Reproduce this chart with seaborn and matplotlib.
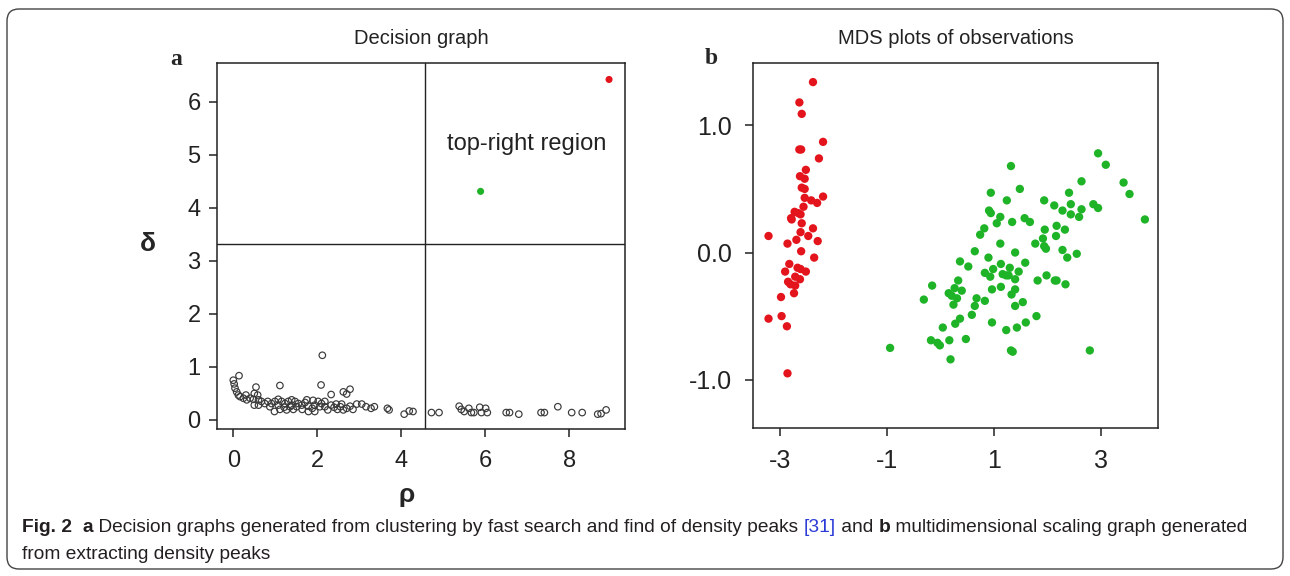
import numpy as np
import pandas as pd
import matplotlib
matplotlib.use("Agg")
import matplotlib.pyplot as plt
import matplotlib.transforms as mtransforms
from matplotlib.patches import FancyBboxPatch
import seaborn as sns

# ---------------------------------------------------------------------------
# data read off the reference
# panel a: decision graph (rho, delta) of all observations
rho = [0.00, 0.02, 0.04, 0.08, 0.12, 0.136, 0.16, 0.24, 0.32, 0.40, 0.30,
       0.54, 0.50, 0.58, 0.48, 0.60, 0.50, 0.60, 0.67, 0.75, 0.87,
       0.82, 0.91, 0.99, 1.07, 1.15, 1.23, 1.31, 1.39, 1.47, 1.55,
       0.98, 1.11, 1.21, 1.35, 1.51, 1.63, 1.71, 1.79, 1.88, 1.94,
       2.02, 2.10, 2.18, 2.25, 2.33, 1.94, 1.79, 1.64, 1.43, 1.27,
       1.07, 1.39, 1.75, 1.90, 2.06, 2.18, 1.11, 2.09, 2.12, 2.33,
       2.62, 2.78, 2.70, 2.40, 2.48, 2.55, 2.62, 2.70, 2.78, 2.85,
       2.45, 2.58, 2.94, 3.06, 3.16, 3.28, 3.36, 3.67, 3.71, 4.07,
       4.19, 4.28, 4.72, 4.90, 5.38, 5.43, 5.50, 5.61, 5.67, 5.73,
       5.87, 5.91, 6.01, 6.05, 6.50, 6.58, 6.80, 7.33, 7.41, 7.73,
       8.06, 8.31, 8.68, 8.76, 8.88]
delta = [0.75, 0.68, 0.60, 0.53, 0.47, 0.835, 0.44, 0.41, 0.38, 0.41, 0.47,
         0.62, 0.50, 0.47, 0.39, 0.38, 0.28, 0.28, 0.35, 0.31, 0.25,
         0.35, 0.31, 0.35, 0.28, 0.35, 0.31, 0.35, 0.28, 0.35, 0.31,
         0.16, 0.20, 0.24, 0.25, 0.25, 0.28, 0.33, 0.26, 0.22, 0.28,
         0.35, 0.31, 0.25, 0.19, 0.28, 0.16, 0.16, 0.20, 0.20, 0.19,
         0.39, 0.38, 0.38, 0.37, 0.25, 0.35, 0.65, 0.66, 1.22, 0.48,
         0.53, 0.58, 0.49, 0.24, 0.20, 0.25, 0.19, 0.22, 0.26, 0.20,
         0.30, 0.30, 0.30, 0.30, 0.25, 0.22, 0.25, 0.22, 0.19, 0.11,
         0.17, 0.16, 0.14, 0.14, 0.26, 0.20, 0.16, 0.22, 0.14, 0.14,
         0.24, 0.14, 0.22, 0.14, 0.14, 0.14, 0.11, 0.14, 0.14, 0.25,
         0.14, 0.14, 0.11, 0.12, 0.19]
# the two density peaks (cluster centres)
peak_rho = [8.95, 5.89]
peak_delta = [6.42, 4.31]
peak_cluster = ["red", "green"]
rho_cut = 4.56
delta_cut = 3.32

# panel b: MDS coordinates, cluster 1 (red)
red_x = [-2.385, -2.639, -2.595, -2.197, -2.640, -2.606, -2.274, -2.518,
         -2.628, -2.540, -2.595, -2.540, -2.197, -2.540, -2.418, -2.308,
         -2.562, -2.728, -2.662, -2.617, -2.794, -2.783, -2.595, -2.385,
         -2.617, -3.215, -2.473, -2.695, -2.297, -2.861, -2.606, -2.363,
         -2.827, -2.905, -2.673, -2.617, -2.518, -2.717, -2.628, -2.850,
         -2.805, -2.717, -2.739, -2.982, -3.215, -2.971, -2.872, -2.861]
red_y = [1.34, 1.18, 1.09, 0.87, 0.81, 0.81, 0.74, 0.65,
         0.60, 0.58, 0.51, 0.50, 0.44, 0.43, 0.41, 0.39,
         0.36, 0.32, 0.31, 0.30, 0.27, 0.26, 0.23, 0.19,
         0.16, 0.13, 0.13, 0.10, 0.09, 0.07, 0.01, -0.04,
         -0.09, -0.15, -0.12, -0.13, -0.15, -0.19, -0.21, -0.23,
         -0.25, -0.26, -0.32, -0.35, -0.52, -0.50, -0.58, -0.95]
# cluster 2 (green)
green_x = [2.936, 3.080, 1.310, 2.627, 3.412, 3.523, 0.934, 1.476, 2.394,
           1.233, 1.930, 2.118, 2.427, 2.627, 2.848, 2.936, 2.272, 2.427,
           2.582, 3.810, 0.901, 0.934, 1.111, 1.045, 1.332, 1.565, 1.664,
           0.812, 0.735, 1.941, 2.162, 2.317, 1.907, 2.151, 1.111, 1.764,
           1.930, 1.963, 2.272, 2.538, 2.361, 1.388, 0.635, 0.890, 0.359,
           0.514, 1.576, 1.122, 1.288, 0.978, 0.823, 0.923, 1.155, 1.222,
           1.266, 1.388, 1.454, 1.974, 2.129, 2.162, 2.328, 1.808, 0.956,
           1.122, 1.388, 1.321, 0.325, -0.161, 0.259, 0.392, 0.148, 0.204,
           0.303, -0.316, 0.668, 0.823, 0.635, 0.237, 1.388, 1.531, 0.580,
           0.359, 0.270, 0.038, 0.956, 1.587, 1.786, 1.421, 1.222, -0.183,
           -0.062, -0.017, 0.160, 0.469, 0.182, 1.310, 1.343, 2.782, -0.946]
green_y = [0.78, 0.69, 0.68, 0.56, 0.55, 0.46, 0.47, 0.50, 0.47,
           0.41, 0.41, 0.37, 0.38, 0.34, 0.38, 0.35, 0.33, 0.30,
           0.28, 0.26, 0.33, 0.31, 0.28, 0.23, 0.24, 0.27, 0.24,
           0.19, 0.14, 0.18, 0.21, 0.18, 0.11, 0.13, 0.07, 0.07,
           0.05, 0.03, 0.02, -0.01, -0.04, 0.00, 0.01, -0.04, -0.07,
           -0.11, -0.08, -0.09, -0.12, -0.13, -0.16, -0.19, -0.17, -0.18,
           -0.18, -0.21, -0.15, -0.18, -0.22, -0.22, -0.25, -0.22, -0.29,
           -0.27, -0.29, -0.33, -0.22, -0.26, -0.28, -0.30, -0.32, -0.34,
           -0.36, -0.37, -0.36, -0.38, -0.42, -0.41, -0.42, -0.39, -0.49,
           -0.52, -0.56, -0.59, -0.55, -0.55, -0.50, -0.59, -0.61, -0.69,
           -0.71, -0.73, -0.69, -0.68, -0.84, -0.77, -0.78, -0.77, -0.75]

titles = ["Decision graph", "MDS plots of observations"]
caption_1 = [("Fig. 2", "bold", "#231f20"), ("  ", "normal", "#231f20"),
             ("a", "bold", "#231f20"),
             (" Decision graphs generated from clustering by fast search and find of density peaks ",
              "normal", "#231f20"),
             ("[31]", "normal", "#2a3bd6"), (" and ", "normal", "#231f20"),
             ("b", "bold", "#231f20"),
             (" multidimensional scaling graph generated", "normal", "#231f20")]
caption_2 = [("from extracting density peaks", "normal", "#231f20")]

colors = {"red": "#e3141c", "green": "#1fb327"}

# ---------------------------------------------------------------------------
sns.set_style("ticks")
plt.rcParams["font.family"] = ["Liberation Sans", "DejaVu Sans"]
plt.rcParams["axes.linewidth"] = 1.1
plt.rcParams["axes.edgecolor"] = "#222222"

fig = plt.figure(figsize=(12.9, 5.76), dpi=100)
ax1 = fig.add_axes([0.1685, 0.2552, 0.3160, 0.6354])
ax2 = fig.add_axes([0.5835, 0.2569, 0.3144, 0.6337])

# panel a
dec = pd.DataFrame({"rho": rho, "delta": delta})
sns.scatterplot(data=dec, x="rho", y="delta", ax=ax1, marker="o", s=22,
                facecolors="none", edgecolor="#3a3a3a", linewidth=0.85)
peaks = pd.DataFrame({"rho": peak_rho, "delta": peak_delta, "cl": peak_cluster})
sns.scatterplot(data=peaks, x="rho", y="delta", hue="cl", palette=colors, ax=ax1,
                s=26, linewidth=0, legend=False)
ax1.axvline(rho_cut, color="#222222", lw=1.0)
ax1.axhline(delta_cut, color="#222222", lw=1.0)
ax1.text(5.09, 5.20, "top-right region", fontsize=17, va="center", ha="left",
         color="#222222")
ax1.set_xlim(-0.38, 9.33)
ax1.set_ylim(-0.17, 6.73)
ax1.set_xticks([0, 2, 4, 6, 8])
ax1.set_yticks([0, 1, 2, 3, 4, 5, 6])
ax1.set_xlabel("ρ", fontsize=19, fontweight="bold", va="center")
ax1.xaxis.set_label_coords(0.465, -0.18)
ax1.set_ylabel("δ", fontsize=19, fontweight="bold", rotation=0, va="center", ha="center")
ax1.yaxis.set_label_coords(-0.17, 0.505)
ax1.tick_params(labelsize=17, length=6, width=1.1, pad=6, color="#222222",
                labelcolor="#222222")
ax1.tick_params(axis="x", pad=9)

# panel b
mds = pd.DataFrame({"x": red_x + green_x, "y": red_y + green_y,
                    "cl": ["red"] * len(red_x) + ["green"] * len(green_x)})
sns.scatterplot(data=mds, x="x", y="y", hue="cl", palette=colors, ax=ax2,
                s=36, linewidth=0, legend=False)
ax2.set_xlim(-3.51, 4.06)
ax2.set_ylim(-1.38, 1.49)
ax2.set_xticks([-3, -1, 1, 3])
ax2.set_yticks([-1.0, 0.0, 1.0])
ax2.set_yticklabels(["-1.0", "0.0", "1.0"])
ax2.set_xticklabels(["-3", "-1", "1", "3"])
ax2.set_xlabel("")
ax2.set_ylabel("")
ax2.tick_params(labelsize=18, length=6, width=1.1, pad=9, color="#222222",
                labelcolor="#222222")

for ax, t in zip([ax1, ax2], titles):
    ax.set_title(t, fontsize=14.5, pad=14, color="#222222")
    for s in ax.spines.values():
        s.set_visible(True)

fig.text(0.1364, 0.896, "a", family=["Liberation Serif", "DejaVu Serif"],
         fontsize=17, fontweight="bold", ha="center", va="center")
fig.text(0.5512, 0.899, "b", family=["Liberation Serif", "DejaVu Serif"],
         fontsize=17, fontweight="bold", ha="center", va="center")

# rounded frame around the figure
frame = FancyBboxPatch((7, 7), 1276, 560, boxstyle="round,pad=0,rounding_size=12",
                       transform=mtransforms.IdentityTransform(),
                       facecolor="none", edgecolor="#444444", lw=1.0)
fig.patches.append(frame)

# caption, written piece by piece so bold / blue parts sit inline
cap_font = ["Liberation Sans", "DejaVu Sans"]
renderer = fig.canvas.get_renderer()


def caption_line(parts, x, y, size):
    for txt, weight, col in parts:
        t = fig.text(x, y, txt, family=cap_font, fontsize=size, fontweight=weight,
                     color=col, va="baseline", ha="left")
        x += t.get_window_extent(renderer=renderer).width / fig.bbox.width


caption_line(caption_1, 0.0171, 0.0764, 13.8)
caption_line(caption_2, 0.0171, 0.0300, 13.8)

fig.savefig("out.png", dpi=100)
